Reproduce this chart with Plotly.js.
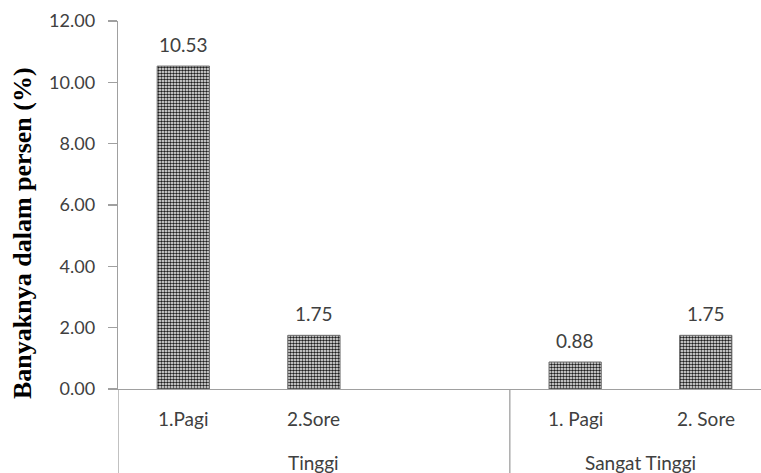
<!DOCTYPE html>
<html>
<head>
<meta charset="utf-8">
<script src="https://cdn.plot.ly/plotly-3.0.1.min.js"></script>
<style>html,body{margin:0;padding:0;background:#fff;}#chart{width:761px;height:473px;}</style>
</head>
<body>
<div id="chart"></div>
<script>
// Data (the Excel source has an empty third slot in the "Tinggi" group)
const categories = ["1.Pagi", "2.Sore", "", "1. Pagi", "2. Sore"];
const groups = ["Tinggi", "Tinggi", "Tinggi", "Sangat Tinggi", "Sangat Tinggi"];
const values = [10.53, 1.75, null, 0.88, 1.75];
const yTitle = "Banyaknya dalam persen (%)";

const TEXT = "#404040";
const AXIS = "#a0a0a0";
const FONT = "Lato, 'Open Sans', sans-serif";

const idx = categories.map((_, i) => i);

const trace = {
  type: "bar",
  x: idx,
  y: values,
  width: 0.40,
  marker: {
    color: "#ffffff",
    pattern: { shape: ".", size: 3, solidity: 0.55, fgcolor: "#1e1e1e", bgcolor: "#ffffff" },
    line: { color: "#6a6a6a", width: 1 }
  },
  hoverinfo: "none",
  showlegend: false
};

const annotations = [];
// data labels
idx.forEach(i => {
  if (values[i] === null) return;
  annotations.push({
    x: i, y: values[i], xref: "x", yref: "y",
    text: values[i].toFixed(2), showarrow: false,
    yanchor: "bottom", yshift: 8,
    font: { family: FONT, size: 19, color: TEXT }
  });
});
// category labels
idx.forEach(i => {
  if (!categories[i]) return;
  annotations.push({
    x: i, y: 0, xref: "x", yref: "paper",
    text: categories[i], showarrow: false,
    yanchor: "middle", yshift: -29,
    font: { family: FONT, size: 19, color: TEXT }
  });
});
// group labels and dividers
const groupNames = [...new Set(groups)];
const shapes = [];
groupNames.forEach(g => {
  const members = idx.filter(i => groups[i] === g);
  const center = (members[0] + members[members.length - 1]) / 2;
  annotations.push({
    x: center, y: 0, xref: "x", yref: "paper",
    text: g, showarrow: false,
    yanchor: "middle", yshift: -73,
    font: { family: FONT, size: 19, color: TEXT }
  });
  const lo = members[0] - 0.5;
  shapes.push({
    type: "line", xref: "x", yref: "paper",
    x0: lo, x1: lo, y0: 0, y1: -0.25,
    line: { color: AXIS, width: 1.3 }
  });
});
// y-axis title
annotations.push({
  x: 0, y: 0.424, xref: "paper", yref: "paper",
  xshift: -95, xanchor: "center", yanchor: "middle",
  text: yTitle, textangle: -90, showarrow: false,
  font: { family: "'Liberation Serif', 'Times New Roman', serif", size: 26, color: "#000000", weight: "bold" }
});

const layout = {
  width: 761, height: 473,
  margin: { l: 118, r: 0, t: 21, b: 84 },
  paper_bgcolor: "#ffffff",
  plot_bgcolor: "#ffffff",
  bargap: 0,
  xaxis: {
    range: [-0.5, 4.423],
    showticklabels: false, ticks: "",
    showgrid: false, zeroline: false,
    showline: true, linecolor: AXIS, linewidth: 1.3
  },
  yaxis: {
    range: [0, 12], dtick: 2, tick0: 0,
    tickformat: ".2f",
    ticks: "outside", ticklen: 9, tickcolor: AXIS, tickwidth: 1.3,
    ticklabelstandoff: 9,
    showgrid: false, zeroline: false,
    showline: true, linecolor: AXIS, linewidth: 1.3,
    tickfont: { family: FONT, size: 18, color: TEXT }
  },
  annotations: annotations,
  shapes: shapes
};

Plotly.newPlot("chart", [trace], layout, { staticPlot: true, displayModeBar: false });
</script>
</body>
</html>
